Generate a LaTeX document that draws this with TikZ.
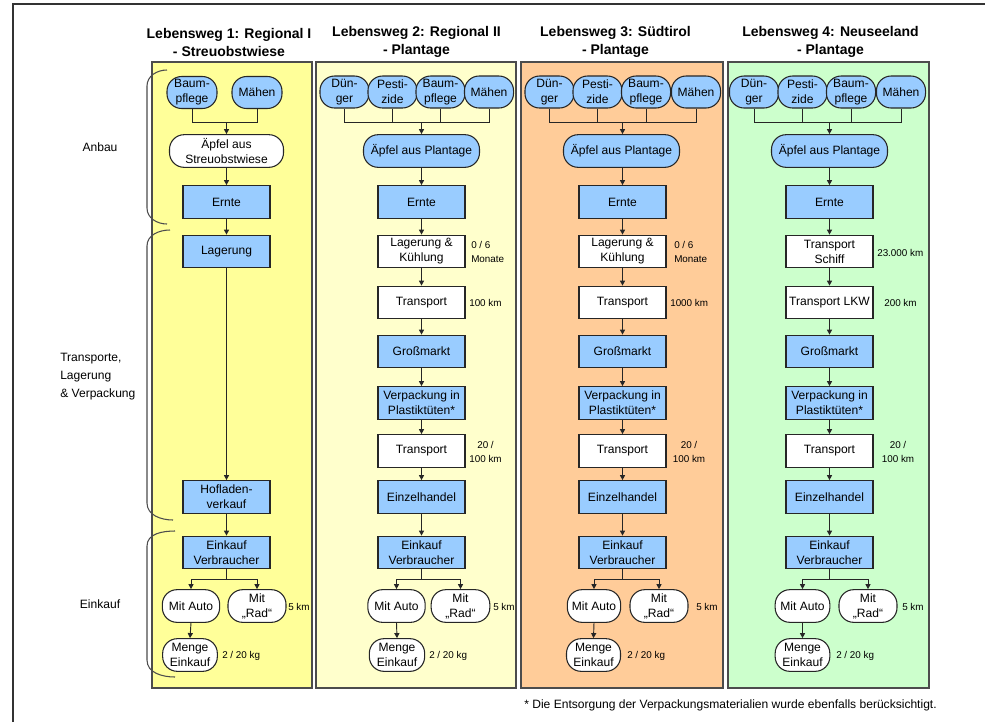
\documentclass[tikz,border=0pt]{standalone}
\usepackage{fontspec}
\setmainfont{Liberation Sans}
\usetikzlibrary{arrows.meta}
\definecolor{boxblue}{RGB}{153,204,255}
\definecolor{pyellow}{RGB}{255,255,153}
\definecolor{plight}{RGB}{255,255,204}
\definecolor{porange}{RGB}{255,204,153}
\definecolor{pgreen}{RGB}{204,255,204}
\newcommand\bxfont{\fontsize{9.05}{11.3}\selectfont}
\newcommand\lblfnt{\fontsize{7.4}{10}\selectfont}
\newcommand\ttlfnt{\fontsize{10.5}{13.5}\selectfont\bfseries}
\tikzset{
  base/.style={draw=black!85, line width=0.8pt, align=center, inner sep=0pt, font=\bxfont},
  rbox/.style={base, rectangle, minimum width=65.25pt, minimum height=24.5pt},
  pill/.style={base, rounded corners=11pt, minimum height=24.5pt},
  topel/.style={pill, fill=boxblue, minimum width=36.8pt, minimum height=24pt},
  bfill/.style={fill=boxblue},
  wfill/.style={fill=white},
  arr/.style={draw=black!85, line width=0.7pt, -{Triangle[length=3.8pt,width=3.8pt]}},
  ln/.style={draw=black!85, line width=0.7pt},
  lbl/.style={font=\lblfnt, inner sep=0pt, align=left},
  lblc/.style={font=\lblfnt, inner sep=0pt, align=center},
  ttl/.style={font=\ttlfnt, inner sep=0pt, align=center},
  side/.style={font=\bxfont, inner sep=0pt},
  panel/.style={draw=black!70, line width=0.9pt},
  brk/.style={draw=black!70, line width=0.8pt},
}
\begin{document}
\begin{tikzpicture}[x=0.75pt,y=-0.75pt]
\useasboundingbox (0,0) rectangle (985,722);
\draw[line width=1.4pt, black!80] (13,722) -- (13,4) -- (985,4);

% panels
\draw[panel, fill=pyellow] (152,62) rectangle (312,688);
\draw[panel, fill=plight] (316,62) rectangle (516,688);
\draw[panel, fill=porange] (521,62) rectangle (723,688);
\draw[panel, fill=pgreen] (728,62) rectangle (929,688);

% titles
\node[ttl] (t1) at (229,42) {Lebensweg 1: Regional I\\- Streuobstwiese};
\node[ttl] (t2) at (416.5,42) {Lebensweg 2: Regional II\\- Plantage};
\node[ttl] (t3) at (615.5,42) {Lebensweg 3: Südtirol\\- Plantage};
\node[ttl] (t4) at (830.5,42) {Lebensweg 4: Neuseeland\\- Plantage};

% side brackets and labels
\draw[brk] (167,70) to[out=180,in=90] (147,86) -- (147,208) to[out=-90,in=180] (167,224);
\draw[brk] (170,230) to[out=180,in=90] (147,246) -- (147,503) to[out=-90,in=180] (173,520);
\draw[brk] (175,531) to[out=180,in=90] (147,546) -- (147,660) to[out=-90,in=180] (175,677);
\node[side] (s1) at (100,147) {Anbau};
\node[side, align=left, anchor=west, font=\fontsize{9.05}{13.5}\selectfont] (s2) at (60,377) {Transporte,\\Lagerung\\\& Verpackung};
\node[side] (s3) at (100,604) {Einkauf};

% ---------------- column 1 ----------------
\node[topel, minimum width=37.5pt] (c1b) at (192,92.5) {Baum-\\pflege};
\node[topel, minimum width=37.5pt] (c1m) at (257,92.5) {Mähen};
\coordinate (c1j) at (226.5,122);
\node[pill,wfill,minimum width=85.5pt] (c1a) at (226.5,151) {Äpfel aus\\Streuobstwiese};
\node[rbox,bfill] (c1e) at (226.5,202) {Ernte};
\node[rbox,bfill] (c1l) at (226.5,251.5) {Lagerung};
\node[rbox,bfill] (c1h) at (226.5,497) {Hofladen-\\verkauf};
\node[rbox,bfill] (c1v) at (226.5,552.5) {Einkauf\\Verbraucher};
\coordinate (c1s) at (226.5,579);
\node[pill,wfill,minimum width=43pt] (c1au) at (191,606) {Mit Auto};
\node[pill,wfill,minimum width=43.5pt] (c1r) at (257,606) {Mit\\„Rad“};
\node[pill,wfill,minimum width=41pt] (c1me) at (190,655) {Menge\\Einkauf};
\draw[ln] (c1b.south) -- (c1b.south |- c1j) -- (c1m.south |- c1j) -- (c1m.south);
\draw[arr] (c1j) -- (c1a.north);
\draw[arr] (c1a.south) -- (c1e.north);
\draw[arr] (c1e.south) -- (c1l.north);
\draw[arr] (c1l.south) -- (c1h.north);
\draw[arr] (c1h.south) -- (c1v.north);
\draw[ln] (c1v.south) -- (c1s);
\draw[arr] (c1s) -| (c1au.north);
\draw[arr] (c1s) -| (c1r.north);
\draw[arr] (c1au.south) -- (c1me.north);
\node[lbl, anchor=west] (c1k) at (288,607) {5 km};
\node[lbl, anchor=west] (c1g) at (222,656) {2 / 20 kg};

% ---------------- column 2 ----------------
\node[topel] (c2d) at (344.5,92) {Dün-\\ger};
\node[topel] (c2p) at (392.5,92) {Pesti-\\zide};
\node[topel] (c2b) at (440.5,92) {Baum-\\pflege};
\node[topel] (c2m) at (489,92) {Mähen};
\coordinate (c2j) at (421.5,122);
\node[pill,bfill,minimum width=87pt] (c2a) at (421.5,151) {Äpfel aus Plantage};
\node[rbox,bfill] (c2e) at (421.5,202) {Ernte};
\node[rbox,wfill] (c2l) at (421.5,251.5) {Lagerung \&\\Kühlung};
\node[rbox,wfill] (c2t) at (421.5,302.5) {Transport};
\node[rbox,bfill] (c2g) at (421.5,351.5) {Großmarkt};
\node[rbox,bfill] (c2v) at (421.5,403) {Verpackung in\\Plastiktüten*};
\node[rbox,wfill] (c2t2) at (421.5,451) {Transport};
\node[rbox,bfill] (c2h) at (421.5,497) {Einzelhandel};
\node[rbox,bfill] (c2ev) at (421.5,552.5) {Einkauf\\Verbraucher};
\coordinate (c2s) at (421.5,579);
\node[pill,wfill,minimum width=43pt] (c2au) at (396.5,606) {Mit Auto};
\node[pill,wfill,minimum width=44pt] (c2r) at (460.5,606) {Mit\\„Rad“};
\node[pill,wfill,minimum width=41.5pt] (c2me) at (397,655) {Menge\\Einkauf};
\draw[ln] (c2d.south) -- (c2d.south |- c2j) -- (c2m.south |- c2j) -- (c2m.south);
\draw[ln] (c2p.south) -- (c2p.south |- c2j);
\draw[ln] (c2b.south) -- (c2b.south |- c2j);
\draw[arr] (c2j) -- (c2a.north);
\draw[arr] (c2a.south) -- (c2e.north);
\draw[arr] (c2e.south) -- (c2l.north);
\draw[arr] (c2l.south) -- (c2t.north);
\draw[arr] (c2t.south) -- (c2g.north);
\draw[arr] (c2g.south) -- (c2v.north);
\draw[arr] (c2v.south) -- (c2t2.north);
\draw[arr] (c2t2.south) -- (c2h.north);
\draw[arr] (c2h.south) -- (c2ev.north);
\draw[ln] (c2ev.south) -- (c2s);
\draw[arr] (c2s) -| (c2au.north);
\draw[arr] (c2s) -| (c2r.north);
\draw[arr] (c2au.south) -- (c2me.north);
\node[lbl, anchor=west] (c2x1) at (471,252) {0 / 6\\Monate};
\node[lbl, anchor=west] (c2x2) at (469,303) {100 km};
\node[lblc] (c2x3) at (485.5,452) {20 /\\100 km};
\node[lbl, anchor=west] (c2k) at (493,607) {5 km};
\node[lbl, anchor=west] (c2gk) at (429,656) {2 / 20 kg};

% ---------------- column 3 ----------------
\node[topel] (c3d) at (549.5,92) {Dün-\\ger};
\node[topel] (c3p) at (597.5,92) {Pesti-\\zide};
\node[topel] (c3b) at (646,92) {Baum-\\pflege};
\node[topel] (c3m) at (696,92) {Mähen};
\coordinate (c3j) at (622.5,122);
\node[pill,bfill,minimum width=87pt] (c3a) at (621.5,151) {Äpfel aus Plantage};
\node[rbox,bfill] (c3e) at (622.5,202) {Ernte};
\node[rbox,wfill] (c3l) at (622.5,251.5) {Lagerung \&\\Kühlung};
\node[rbox,wfill] (c3t) at (622.5,302.5) {Transport};
\node[rbox,bfill] (c3g) at (622.5,351.5) {Großmarkt};
\node[rbox,bfill] (c3v) at (622.5,403) {Verpackung in\\Plastiktüten*};
\node[rbox,wfill] (c3t2) at (622.5,451) {Transport};
\node[rbox,bfill] (c3h) at (622.5,497) {Einzelhandel};
\node[rbox,bfill] (c3ev) at (622.5,552.5) {Einkauf\\Verbraucher};
\coordinate (c3s) at (622.5,579);
\node[pill,wfill,minimum width=40pt] (c3au) at (594,606) {Mit Auto};
\node[pill,wfill,minimum width=43.5pt] (c3r) at (659,606) {Mit\\„Rad“};
\node[pill,wfill,minimum width=40.5pt] (c3me) at (593.5,655) {Menge\\Einkauf};
\draw[ln] (c3d.south) -- (c3d.south |- c3j) -- (c3m.south |- c3j) -- (c3m.south);
\draw[ln] (c3p.south) -- (c3p.south |- c3j);
\draw[ln] (c3b.south) -- (c3b.south |- c3j);
\draw[arr] (c3j) -- (c3j |- c3a.north);
\draw[arr] (c3a.south -| c3e) -- (c3e.north);
\draw[arr] (c3e.south) -- (c3l.north);
\draw[arr] (c3l.south) -- (c3t.north);
\draw[arr] (c3t.south) -- (c3g.north);
\draw[arr] (c3g.south) -- (c3v.north);
\draw[arr] (c3v.south) -- (c3t2.north);
\draw[arr] (c3t2.south) -- (c3h.north);
\draw[arr] (c3h.south) -- (c3ev.north);
\draw[ln] (c3ev.south) -- (c3s);
\draw[arr] (c3s) -| (c3au.north);
\draw[arr] (c3s) -| (c3r.north);
\draw[arr] (c3au.south) -- (c3me.north);
\node[lbl, anchor=west] (c3x1) at (674,252) {0 / 6\\Monate};
\node[lbl, anchor=west] (c3x2) at (670,303) {1000 km};
\node[lblc] (c3x3) at (689,452) {20 /\\100 km};
\node[lbl, anchor=west] (c3k) at (696,607) {5 km};
\node[lbl, anchor=west] (c3gk) at (627,656) {2 / 20 kg};

% ---------------- column 4 ----------------
\node[topel] (c4d) at (754,92) {Dün-\\ger};
\node[topel] (c4p) at (802.5,92) {Pesti-\\zide};
\node[topel] (c4b) at (851,92) {Baum-\\pflege};
\node[topel] (c4m) at (901,92) {Mähen};
\coordinate (c4j) at (829.5,122);
\node[pill,bfill,minimum width=87pt] (c4a) at (829.5,151) {Äpfel aus Plantage};
\node[rbox,bfill] (c4e) at (829.5,202) {Ernte};
\node[rbox,wfill] (c4l) at (829.5,251.5) {Transport\\Schiff};
\node[rbox,wfill] (c4t) at (829.5,302.5) {Transport LKW};
\node[rbox,bfill] (c4g) at (829.5,351.5) {Großmarkt};
\node[rbox,bfill] (c4v) at (829.5,403) {Verpackung in\\Plastiktüten*};
\node[rbox,wfill] (c4t2) at (829.5,451) {Transport};
\node[rbox,bfill] (c4h) at (829.5,497) {Einzelhandel};
\node[rbox,bfill] (c4ev) at (829.5,552.5) {Einkauf\\Verbraucher};
\coordinate (c4s) at (829.5,579);
\node[pill,wfill,minimum width=41pt] (c4au) at (802.5,606) {Mit Auto};
\node[pill,wfill,minimum width=43.5pt] (c4r) at (868,606) {Mit\\„Rad“};
\node[pill,wfill,minimum width=41pt] (c4me) at (802.5,655) {Menge\\Einkauf};
\draw[ln] (c4d.south) -- (c4d.south |- c4j) -- (c4m.south |- c4j) -- (c4m.south);
\draw[ln] (c4p.south) -- (c4p.south |- c4j);
\draw[ln] (c4b.south) -- (c4b.south |- c4j);
\draw[arr] (c4j) -- (c4a.north);
\draw[arr] (c4a.south) -- (c4e.north);
\draw[arr] (c4e.south) -- (c4l.north);
\draw[arr] (c4l.south) -- (c4t.north);
\draw[arr] (c4t.south) -- (c4g.north);
\draw[arr] (c4g.south) -- (c4v.north);
\draw[arr] (c4v.south) -- (c4t2.north);
\draw[arr] (c4t2.south) -- (c4h.north);
\draw[arr] (c4h.south) -- (c4ev.north);
\draw[ln] (c4ev.south) -- (c4s);
\draw[arr] (c4s) -| (c4au.north);
\draw[arr] (c4s) -| (c4r.north);
\draw[arr] (c4au.south) -- (c4me.north);
\node[lbl, anchor=west] (c4x1) at (877,253) {23.000 km};
\node[lbl, anchor=west] (c4x2) at (884,303) {200 km};
\node[lblc] (c4x3) at (898,452) {20 /\\100 km};
\node[lbl, anchor=west] (c4k) at (902,607) {5 km};
\node[lbl, anchor=west] (c4gk) at (836,656) {2 / 20 kg};

% footnote
\node[side, anchor=west] (fn) at (524,705) {* Die Entsorgung der Verpackungsmaterialien wurde ebenfalls berücksichtigt.};
\end{tikzpicture}
\end{document}
